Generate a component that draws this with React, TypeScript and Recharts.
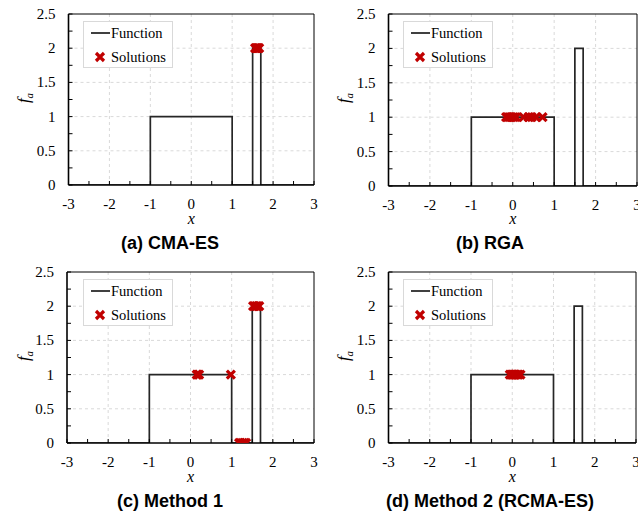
import { ComposedChart, Line, Scatter, XAxis, YAxis, CartesianGrid, ReferenceLine, Legend } from "recharts";

// objective function f_a: step breakpoints (value holds until next x)
const fnX = [-3, -1, 1, 1.5, 1.7, 3];
const fnY = [0, 1, 0, 2, 0, 0];

const xTicks = [-3, -2.5, -2, -1.5, -1, -0.5, 0, 0.5, 1, 1.5, 2, 2.5, 3];
const yTicks = [0, 0.25, 0.5, 0.75, 1, 1.25, 1.5, 1.75, 2, 2.25, 2.5];
const xGrid = [-2, -1, 0, 1, 2];
const yGrid = [0.5, 1, 1.5, 2];

// found solutions, one pair of arrays per method
const cmaesX = [1.56, 1.58, 1.6, 1.62, 1.64, 1.66];
const cmaesY = [2, 2, 2, 2, 2, 2];

const rgaX = [-0.16, -0.12, -0.07, -0.02, 0.03, 0.08, 0.26, 0.38, 0.46, 0.56, 0.72];
const rgaY = [1, 1, 1, 1, 1, 1, 1, 1, 1, 1, 1];

const m1X = [0.15, 0.18, 0.21, 0.98, 1.18, 1.22, 1.27, 1.31, 1.35, 1.52, 1.56, 1.6, 1.64, 1.67];
const m1Y = [1, 1, 1, 1, 0, 0, 0, 0, 0, 2, 2, 2, 2, 2];

const m2X = [-0.06, -0.03, 0, 0.02, 0.05, 0.08, 0.12, 0.16, 0.2];
const m2Y = [1, 1, 1, 1, 1, 1, 1, 1, 1];

const fnData = fnX.map((x, i) => ({ x, y: fnY[i] }));
const toPts = (xs: number[], ys: number[]) => xs.map((x, i) => ({ x, y: ys[i] }));

const SERIF = "'Liberation Serif', 'Times New Roman', serif";
const SANS = "'Liberation Sans', Arial, sans-serif";
const RED = "#c00000";

function Cross({ cx, cy }: any) {
  const s = 4;
  return (
    <path
      d={`M${cx - s},${cy - s}L${cx + s},${cy + s}M${cx - s},${cy + s}L${cx + s},${cy - s}`}
      stroke={RED}
      strokeWidth={3.2}
      fill="none"
    />
  );
}

function XTick({ x, y, payload }: any) {
  const v = payload.value;
  return (
    <g>
      <line x1={x} x2={x} y1={y} y2={y - 4} stroke="#000" />
      {Number.isInteger(v) && (
        <text x={x} y={y + 19} textAnchor="middle" dominantBaseline="central" fontFamily={SERIF} fontSize={15} fill="#000">
          {String(v)}
        </text>
      )}
    </g>
  );
}

function YTick({ x, y, payload }: any) {
  const v = payload.value;
  const major = Math.abs(v * 2 - Math.round(v * 2)) < 1e-9;
  return (
    <g>
      <line x1={x} x2={x + 4} y1={y} y2={y} stroke="#000" />
      {major && (
        <text x={x - 13} y={y} textAnchor="end" dominantBaseline="central" fontFamily={SERIF} fontSize={15} fill="#000">
          {String(v)}
        </text>
      )}
    </g>
  );
}

function LegendBox() {
  return (
    <div style={{ width: 90, height: 47, border: "1px solid #d9d9d9", background: "#fff", boxSizing: "border-box" }}>
      <svg width={90} height={47} style={{ display: "block" }}>
        <line x1={7} x2={26} y1={11} y2={11} stroke="#000" strokeWidth={1.5} />
        <text x={27} y={11} dominantBaseline="central" fontFamily={SERIF} fontSize={14.5} fill="#000">Function</text>
        <Cross cx={16} cy={35} />
        <text x={27} y={35} dominantBaseline="central" fontFamily={SERIF} fontSize={14.5} fill="#000">Solutions</text>
      </svg>
    </div>
  );
}

type PanelProps = {
  left: number;
  top: number;
  yAxisWidth: number;
  marginRight: number;
  height: number;
  title: string;
  xs: number[];
  ys: number[];
};

function Panel({ left, top, yAxisWidth, marginRight, height, title, xs, ys }: PanelProps) {
  const plotCenter = (yAxisWidth + 320 - marginRight) / 2;
  return (
    <div style={{ position: "absolute", left, top, width: 320, height: 258 }}>
      <ComposedChart width={320} height={height} margin={{ top: 14, right: marginRight, left: 0, bottom: 0 }}>
        <CartesianGrid stroke="#d9d9d9" strokeDasharray="3 3" verticalValues={xGrid} horizontalValues={yGrid} />
        <XAxis
          type="number"
          dataKey="x"
          domain={[-3, 3]}
          ticks={xTicks}
          interval={0}
          allowDataOverflow
          height={45}
          tickSize={0}
          tickMargin={0}
          tickLine={false}
          axisLine={{ stroke: "#000", strokeWidth: 1.6 }}
          tick={<XTick />}
        />
        <YAxis
          type="number"
          dataKey="y"
          domain={[0, 2.5]}
          ticks={yTicks}
          interval={0}
          allowDataOverflow
          width={yAxisWidth}
          tickSize={0}
          tickMargin={0}
          tickLine={false}
          axisLine={{ stroke: "#000", strokeWidth: 1.6 }}
          tick={<YTick />}
        />
        <ReferenceLine y={2.5} stroke="#000" strokeWidth={1} />
        <ReferenceLine x={3} stroke="#000" strokeWidth={1} />
        <Line
          data={fnData}
          dataKey="y"
          type="stepAfter"
          stroke="#262626"
          strokeWidth={1.7}
          dot={false}
          isAnimationActive={false}
        />
        <Scatter data={toPts(xs, ys)} dataKey="y" shape={<Cross />} isAnimationActive={false} />
        <Legend
          layout="vertical"
          align="center"
          verticalAlign="middle"
          content={() => <LegendBox />}
          wrapperStyle={{ left: 83, top: 21, width: "auto", height: "auto" }}
        />
      </ComposedChart>
      <div
        style={{
          position: "absolute",
          left: 25,
          top: 98,
          transform: "translate(-50%, -50%) rotate(-90deg)",
          fontFamily: SERIF,
          fontSize: 17,
          fontStyle: "italic",
          whiteSpace: "nowrap",
          lineHeight: 1,
        }}
      >
        f<sub style={{ fontSize: 11 }}>a</sub>
      </div>
      <div
        style={{
          position: "absolute",
          left: plotCenter,
          top: 219,
          transform: "translate(-50%, -50%)",
          fontFamily: SERIF,
          fontSize: 16,
          fontStyle: "italic",
          lineHeight: 1,
        }}
      >
        x
      </div>
      <div
        style={{
          position: "absolute",
          left: 170,
          top: 243,
          transform: "translate(-50%, -50%)",
          fontFamily: SANS,
          fontSize: 18,
          fontWeight: "bold",
          whiteSpace: "nowrap",
          lineHeight: 1,
        }}
      >
        {title}
      </div>
    </div>
  );
}

export default function App() {
  return (
    <div style={{ position: "fixed", left: 0, top: 0, width: 638, height: 516, overflow: "hidden", background: "#fff" }}>
      <Panel left={0} top={0} yAxisWidth={68.5} marginRight={6} height={230} title="(a) CMA-ES" xs={cmaesX} ys={cmaesY} />
      <Panel left={320} top={0} yAxisWidth={68.5} marginRight={3} height={231} title="(b) RGA" xs={rgaX} ys={rgaY} />
      <Panel left={0} top={258} yAxisWidth={67} marginRight={6} height={230} title="(c) Method 1" xs={m1X} ys={m1Y} />
      <Panel left={320} top={258} yAxisWidth={68.5} marginRight={4} height={230} title="(d) Method 2 (RCMA-ES)" xs={m2X} ys={m2Y} />
    </div>
  );
}
